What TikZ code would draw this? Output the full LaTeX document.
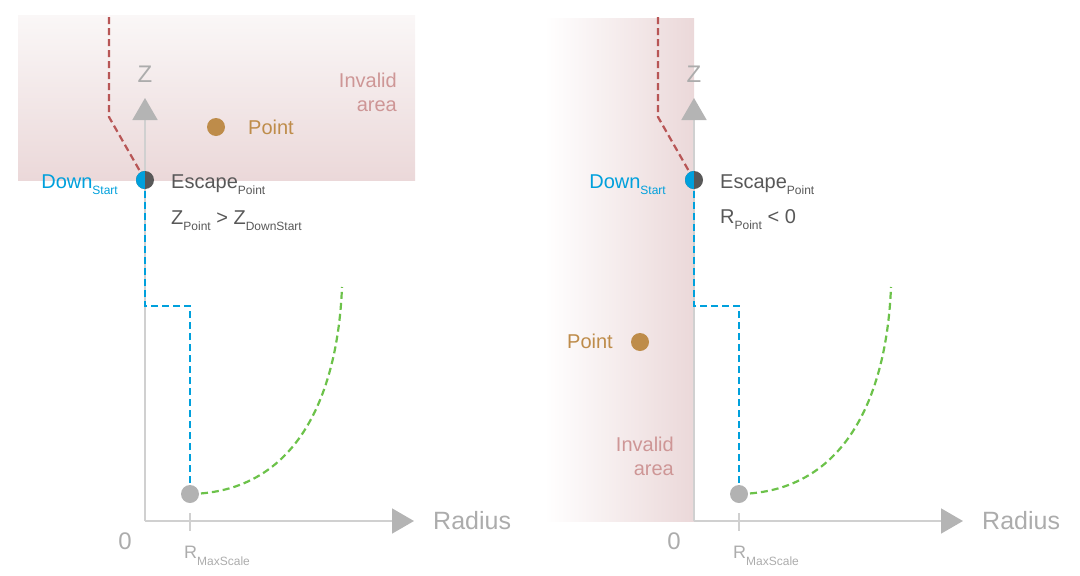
\documentclass[tikz,border=0pt]{standalone}
\usepackage{fontspec}
\setmainfont{Liberation Sans}
\usetikzlibrary{arrows.meta}

\definecolor{axisgray}{RGB}{208,208,208}
\definecolor{arrowgray}{RGB}{180,180,180}
\definecolor{labelgray}{RGB}{172,172,172}
\definecolor{escgray}{RGB}{88,88,88}
\definecolor{dotgray}{RGB}{178,178,178}
\definecolor{downblue}{RGB}{0,160,220}
\definecolor{pointbrown}{RGB}{190,140,74}
\definecolor{curvegreen}{RGB}{108,194,74}
\definecolor{pathred}{RGB}{184,86,86}
\definecolor{invalidtxt}{RGB}{206,150,150}
\definecolor{pinktop}{RGB}{250,247,247}
\definecolor{pinkbot}{RGB}{235,216,217}

\newcommand\lowsub[2][6pt]{\raisebox{-#1}{\fontsize{12}{12}\selectfont #2}}

\tikzset{
  axisline/.style={draw=axisgray, line width=1.8pt,
    -{Triangle[length=22pt,width=25pt,color=arrowgray]}},
  tickline/.style={draw=axisgray, line width=1.8pt},
  dashline/.style={line width=2.2pt, dash pattern=on 7pt off 4pt},
  dot/.style={circle, inner sep=0pt, minimum size=18pt},
  halfdot/.style={dot, fill=escgray, path picture={
    \fill[downblue] (path picture bounding box.south west) rectangle (path picture bounding box.north);}},
  txt/.style={inner sep=0pt, font=\fontsize{20}{24}\selectfont},
  axislbl/.style={inner sep=0pt, text=labelgray, font=\fontsize{24}{26}\selectfont},
}

\begin{document}
\begin{tikzpicture}[x=1pt,y=-1pt]
\useasboundingbox (0,0) rectangle (1080,576);

%% left: point above DownStart
\shade[top color=pinktop, bottom color=pinkbot] (18,15) rectangle (415,180);
\coordinate (aorig) at (145,521);
\coordinate (aztip) at (145,98);
\coordinate (artip) at (414,521);
\draw[axisline] (aorig) -- (aztip);
\draw[axisline] (aorig) -- (artip);
\draw[tickline] (190,513) -- (190,531);
\coordinate (aesc) at (145,180);
\coordinate (armax) at (190,494);
\coordinate (astep) at (145,306);
\coordinate (atop) at (109,17);
\coordinate (abend) at (109,117);
\coordinate (agend) at (342,287);
\draw[dashline, pathred] (atop) -- (abend) -- (aesc);
\draw[dashline, downblue] (armax) |- (astep) -- (aesc);
\draw[dashline, curvegreen] (armax) .. controls +(110,-2) and +(-4,103) .. (agend);
\node[dot, fill=dotgray] (armaxdot) at (armax) {};
\node[halfdot] (aescdot) at (aesc) {};
\node[dot, fill=pointbrown] (apt) at (216,127) {};
\node[axislbl] (azlbl) at (145,74) {Z};
\node[axislbl] (azero) at (125,541) {0};
\node[axislbl, anchor=west, font=\fontsize{25}{26}\selectfont] (arlbl) at (433,521) {Radius};
\node[txt, anchor=base west, text=labelgray, font=\fontsize{18}{20}\selectfont] (armaxlbl) at (184,558) {R\lowsub[7pt]{MaxScale}};
\node[txt, anchor=base west, text=pointbrown] (aptlbl) at (248,134) {Point};
\node[txt, anchor=north east, align=right, text=invalidtxt] (ainv) at (397,73) {Invalid\\area};
\node[txt, anchor=base east, text=downblue] (adown) at (118,188) {Down\lowsub{Start}};
\node[txt, anchor=base west, text=escgray] (aescl) at (171,188) {Escape\lowsub{Point}};
\node[txt, anchor=base west, text=escgray] (acond) at (171,224) {Z\lowsub{Point} > Z\lowsub{DownStart}};

%% right: point left of the Z axis
\shade[left color=white, right color=pinkbot] (545,18) rectangle (694,521);
\coordinate (borig) at (694,521);
\coordinate (bztip) at (694,98);
\coordinate (brtip) at (963,521);
\draw[axisline] (borig) -- (bztip);
\draw[axisline] (borig) -- (brtip);
\draw[tickline] (739,513) -- (739,531);
\coordinate (besc) at (694,180);
\coordinate (brmax) at (739,494);
\coordinate (bstep) at (694,306);
\coordinate (btop) at (658,17);
\coordinate (bbend) at (658,117);
\coordinate (bgend) at (891,287);
\draw[dashline, pathred] (btop) -- (bbend) -- (besc);
\draw[dashline, downblue] (brmax) |- (bstep) -- (besc);
\draw[dashline, curvegreen] (brmax) .. controls +(110,-2) and +(-4,103) .. (bgend);
\node[dot, fill=dotgray] (brmaxdot) at (brmax) {};
\node[halfdot] (bescdot) at (besc) {};
\node[dot, fill=pointbrown] (bpt) at (640,342) {};
\node[axislbl] (bzlbl) at (694,74) {Z};
\node[axislbl] (bzero) at (674,541) {0};
\node[axislbl, anchor=west, font=\fontsize{25}{26}\selectfont] (brlbl) at (982,521) {Radius};
\node[txt, anchor=base west, text=labelgray, font=\fontsize{18}{20}\selectfont] (brmaxlbl) at (733,558) {R\lowsub[7pt]{MaxScale}};
\node[txt, anchor=base east, text=pointbrown] (bptlbl) at (613,348) {Point};
\node[txt, anchor=north east, align=right, text=invalidtxt] (binv) at (674,437) {Invalid\\area};
\node[txt, anchor=base east, text=downblue] (bdown) at (666,188) {Down\lowsub{Start}};
\node[txt, anchor=base west, text=escgray] (bescl) at (720,188) {Escape\lowsub{Point}};
\node[txt, anchor=base west, text=escgray] (bcond) at (720,223) {R\lowsub{Point} < 0};
\end{tikzpicture}
\end{document}
